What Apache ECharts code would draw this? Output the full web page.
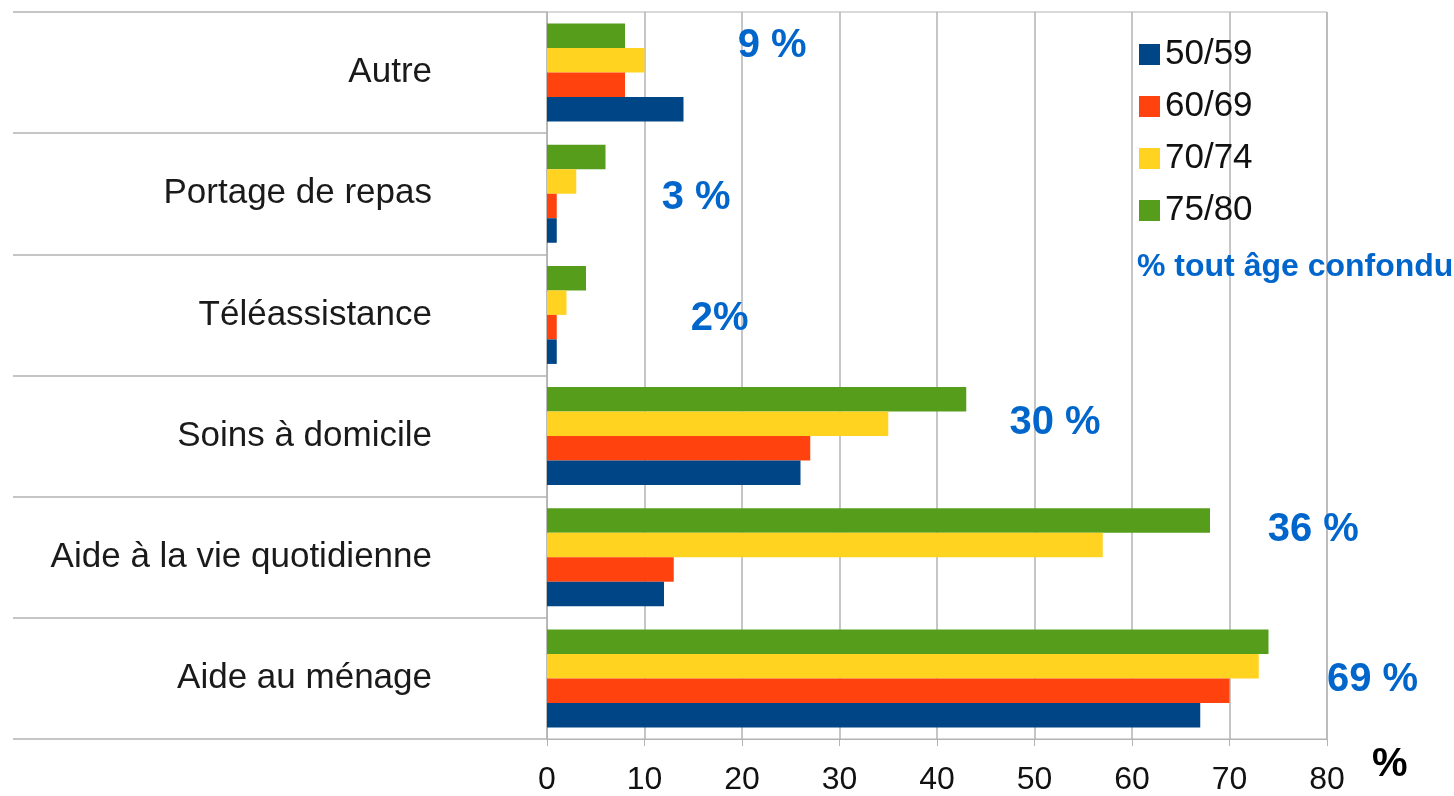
<!DOCTYPE html>
<html>
<head>
<meta charset="utf-8">
<script src="https://cdn.jsdelivr.net/npm/echarts@6/dist/echarts.min.js"></script>
<style>
  html, body { margin: 0; padding: 0; background: #fff; }
  #chart { width: 1454px; height: 796px; }
</style>
</head>
<body>
<div id="chart"></div>
<script>
// catégories, du bas vers le haut
const categories = ['Aide au ménage', 'Aide à la vie quotidienne', 'Soins à domicile', 'Téléassistance', 'Portage de repas', 'Autre']
const ageGroups = ['50/59', '60/69', '70/74', '75/80']
const v5059 = [67, 12, 26, 1, 1, 14]
const v6069 = [70, 13, 27, 1, 1, 8]
const v7074 = [73, 57, 35, 2, 3, 10]
const v7580 = [74, 68, 43, 4, 6, 8]
// % tout âge confondu
const totals = ['69 %', '36 %', '30 %', '2%', '3 %', '9 %']
const xTicks = [0, 10, 20, 30, 40, 50, 60, 70, 80]

const colors = ['#004586', '#ff420e', '#ffd320', '#579d1c']
const gridColor = '#b3b3b3'

// ancrage des pourcentages (valeur x, décalage px)
const totalAnchor = [
  { x: 74, dx: 104, dy: 2 },
  { x: 78.6, dx: 0, dy: -27 },
  { x: 52.1, dx: 0, dy: -13 },
  { x: 17.7, dx: 0, dy: 4 },
  { x: 15.3, dx: 0, dy: 4 },
  { x: 23.1, dx: 0, dy: -27 },
]

const chart = echarts.init(document.getElementById('chart'))
const seriesData = [v5059, v6069, v7074, v7580]

// les barres d'une catégorie s'empilent du haut vers le bas : on inverse l'ordre
const barSeries = ageGroups.map((name, i) => ({
  name,
  type: 'bar',
  data: seriesData[i],
  barWidth: 24.5,
  barGap: '0%',
  itemStyle: { color: colors[i] },
})).reverse()

const option = {
  animation: false,
  textStyle: { fontFamily: 'Liberation Sans, Arial, sans-serif' },
  grid: {
    left: 547, right: 127, top: 12, bottom: 54,
    show: true, borderColor: gridColor, borderWidth: 1,
  },
  legend: {
    orient: 'vertical',
    left: 1134, top: 32,
    itemWidth: 21, itemHeight: 21, itemGap: 17,
    icon: 'rect',
    data: ageGroups,
    textStyle: { fontSize: 35, color: '#111', padding: [0, 0, 0, 0] },
  },
  title: {
    text: '% tout âge confondu',
    left: 1132, top: 246,
    textStyle: { fontSize: 32, fontWeight: 'bold', color: '#0066cc' },
  },
  xAxis: {
    type: 'value',
    min: 0, max: 80, interval: 10,
    name: '%',
    nameLocation: 'end',
    nameGap: 45,
    nameTextStyle: { fontSize: 40, fontWeight: 'bold', color: '#000', verticalAlign: 'top', padding: [6, 0, 0, 0] },
    axisLine: { show: true, lineStyle: { color: gridColor } },
    axisTick: { show: true, length: 7, lineStyle: { color: gridColor } },
    axisLabel: {
      fontSize: 32, color: '#111', margin: 25,
      formatter: v => (xTicks.includes(v) ? String(v) : ''),
    },
    splitLine: { show: true, lineStyle: { color: gridColor, width: 1.5 } },
  },
  yAxis: {
    type: 'category',
    data: categories,
    axisLine: { show: true, lineStyle: { color: gridColor } },
    axisTick: { show: true, length: 534, lineStyle: { color: gridColor, width: 1.5 } },
    axisLabel: { fontSize: 35, color: '#1a1a1a', margin: 115, padding: [4, 0, 0, 0] },
    splitLine: { show: false },
  },
  series: barSeries.concat([{
    name: 'totaux',
    type: 'line',
    data: [],
    showSymbol: false,
    markPoint: {
      symbol: 'rect',
      symbolSize: 1,
      itemStyle: { color: 'rgba(0,0,0,0)' },
      label: {
        show: true,
        fontSize: 40,
        fontWeight: 'bold',
        color: '#0066cc',
        formatter: p => p.data.value,
      },
      data: totals.map((t, k) => ({
        coord: [totalAnchor[k].x, k],
        value: t,
        label: { offset: [totalAnchor[k].dx, totalAnchor[k].dy] },
      })),
    },
  }]),
}
chart.setOption(option)
</script>
</body>
</html>
